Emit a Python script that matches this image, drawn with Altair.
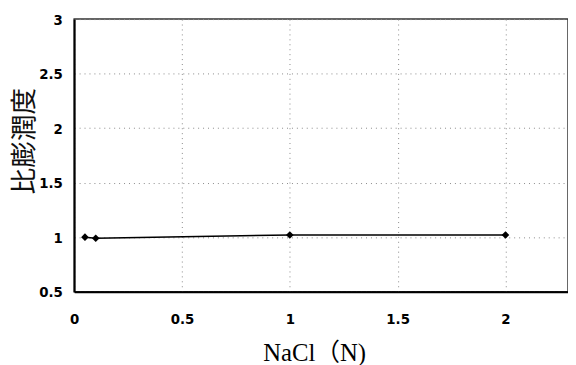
import altair as alt
import pandas as pd

nacl = [0.05, 0.1, 1.0, 2.0]
swell = [1.0, 0.99, 1.02, 1.02]
x_ticks = [0, 0.5, 1, 1.5, 2]
y_ticks = [0.5, 1, 1.5, 2, 2.5, 3]

df = pd.DataFrame({"nacl": nacl, "swell": swell})

lab_font = "DejaVu Sans Condensed, Liberation Sans"

x = alt.X("nacl:Q", scale=alt.Scale(domain=[0, 2.29], nice=False, zero=False),
          axis=alt.Axis(values=x_ticks, format="~g", title="NaCl（N)", grid=True,
                        gridDash=[1, 4], gridColor="#888888", gridWidth=1,
                        domainColor="black", domainWidth=2, ticks=False,
                        labelPadding=20, labelFont=lab_font,
                        labelFontWeight="bold", labelFontSize=15, labelColor="black",
                        labelFlush=False, labelOverlap=False,
                        titleFont="Liberation Serif, Noto Sans CJK JP", titleFontWeight="normal",
                        titleFontSize=25, titleColor="black", titlePadding=15, titleX=243))
y = alt.Y("swell:Q", scale=alt.Scale(domain=[0.5, 3], nice=False, zero=False),
          axis=alt.Axis(values=y_ticks, format="~g", title="比膨潤度", grid=True,
                        gridDash=[1, 4], gridColor="#888888", gridWidth=1,
                        domainColor="black", domainWidth=2, ticks=False,
                        labelPadding=12, labelFont=lab_font,
                        labelFontWeight="bold", labelFontSize=15, labelColor="black",
                        labelFlush=False, labelOverlap=False,
                        titleFont="Noto Sans CJK JP", titleFontWeight="normal",
                        titleFontSize=27, titleColor="#111111", titleAngle=-90,
                        titleX=-50, titleY=123, titleAlign="center", titleBaseline="middle"))

line = alt.Chart(df).mark_line(color="black", strokeWidth=1.5).encode(x=x, y=y)
pts = alt.Chart(df).mark_point(shape="diamond", filled=True, color="black", size=60, opacity=1).encode(x=x, y=y)

chart = (line + pts).properties(
    width=500, height=276,
    autosize=alt.AutoSizeParams(type="none"),
    padding={"left": 67, "top": 9, "right": 0, "bottom": 72},
).configure_view(stroke="#333333", strokeWidth=1.5)

chart.save("out.html", embed_options={"renderer": "svg", "actions": False})
